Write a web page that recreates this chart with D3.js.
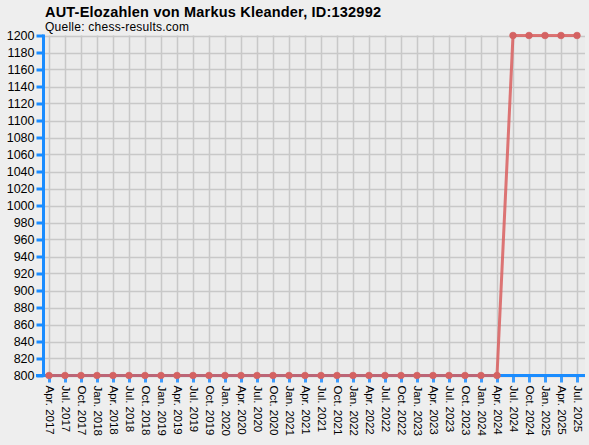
<!DOCTYPE html>
<html><head><meta charset="utf-8">
<script src="https://cdn.jsdelivr.net/npm/d3@7"></script>
<style>
html,body{margin:0;padding:0;background:#eeeeee;}
svg{display:block;font-family:"Liberation Sans",Arial,sans-serif;}
</style></head>
<body>
<svg id="c" width="589" height="445"></svg>
<script>
const titleText = "AUT-Elozahlen von Markus Kleander, ID:132992";
const subtitleText = "Quelle: chess-results.com";
const categories = ["Apr. 2017","Jul. 2017","Oct. 2017","Jan. 2018","Apr. 2018","Jul. 2018","Oct. 2018","Jan. 2019","Apr. 2019","Jul. 2019","Oct. 2019","Jan. 2020","Apr. 2020","Jul. 2020","Oct. 2020","Jan. 2021","Apr. 2021","Jul. 2021","Oct. 2021","Jan. 2022","Apr. 2022","Jul. 2022","Oct. 2022","Jan. 2023","Apr. 2023","Jul. 2023","Oct. 2023","Jan. 2024","Apr. 2024","Jul. 2024","Oct. 2024","Jan. 2025","Apr. 2025","Jul. 2025"];
const elo = [800,800,800,800,800,800,800,800,800,800,800,800,800,800,800,800,800,800,800,800,800,800,800,800,800,800,800,800,800,1200,1200,1200,1200,1200];
const yTicks = [800,820,840,860,880,900,920,940,960,980,1000,1020,1040,1060,1080,1100,1120,1140,1160,1180,1200];

const svg = d3.select("#c");
const L = 44, R = 585, T = 35.5, B = 375.5;
const step = 16;
const x = d3.scalePoint().domain(categories).range([49, 49 + step*(categories.length-1)]);
const y = d3.scaleLinear().domain([800,1200]).range([B, T]);

svg.append("rect").attr("x",0).attr("y",0).attr("width",589).attr("height",445).attr("fill","#eeeeee");
svg.append("rect").attr("x",L).attr("y",T).attr("width",R-L).attr("height",B-T).attr("fill","#ebebeb");

// grid
const g = svg.append("g");
g.selectAll("line.h").data(yTicks).join("line")
  .attr("x1",L).attr("x2",R).attr("y1",d=>Math.round(y(d))+0.5).attr("y2",d=>Math.round(y(d))+0.5)
  .attr("stroke","#c8c8c8").attr("stroke-width",1.5);
g.selectAll("line.v").data(categories).join("line")
  .attr("x1",d=>x(d)+0.5).attr("x2",d=>x(d)+0.5).attr("y1",T).attr("y2",B)
  .attr("stroke","#c8c8c8").attr("stroke-width",1.5);

// y axis
const ya = svg.append("g").attr("transform",`translate(${L-0.5},0)`)
  .call(d3.axisLeft(y).tickValues(yTicks).tickSize(7).tickPadding(2).tickFormat(d3.format("d")));
ya.select(".domain").remove();
ya.selectAll(".tick line").attr("stroke","#1a8cff").attr("stroke-width",3);
ya.selectAll(".tick text").attr("fill","#000").style("font-size","12.5px").style("font-family","'Liberation Sans',Arial,sans-serif");
svg.append("line").attr("x1",L-0.5).attr("x2",L-0.5).attr("y1",T-1).attr("y2",B+1).attr("stroke","#1a8cff").attr("stroke-width",3);

// x axis
const xa = svg.append("g").attr("transform",`translate(0,${B})`)
  .call(d3.axisBottom(x).tickSize(7).tickPadding(0));
xa.select(".domain").remove();
xa.selectAll(".tick line").attr("stroke","#1a8cff").attr("stroke-width",3).attr("opacity",0.85);
xa.selectAll(".tick text")
  .attr("fill","#000").style("font-size","11.5px").style("font-family","'Liberation Sans',Arial,sans-serif")
  .attr("text-anchor","start").attr("dy",null)
  .attr("transform","translate(0,10) rotate(90)")
  .attr("x",0).attr("y",0).attr("dominant-baseline","central");
svg.append("line").attr("x1",36).attr("x2",R).attr("y1",B).attr("y2",B).attr("stroke","#1a8cff").attr("stroke-width",3);

// series
const pts = categories.map((c,i)=>({c, v: elo[i]}));
svg.append("path").datum(pts)
  .attr("fill","none").attr("stroke","#d95f5f").attr("stroke-opacity",0.85).attr("stroke-width",3)
  .attr("d", d3.line().x(d=>x(d.c)).y(d=>y(d.v)));
svg.selectAll("circle.p").data(pts).join("circle")
  .attr("cx",d=>x(d.c)).attr("cy",d=>y(d.v)).attr("r",3.3)
  .attr("fill","#d46262").attr("stroke","#d46262").attr("stroke-width",0.8);

// titles
svg.append("text").attr("x",45).attr("y",16.5).text(titleText)
  .attr("textLength",336).attr("lengthAdjust","spacing")
  .style("font-weight","bold").style("font-size","14.5px").attr("fill","#000");
svg.append("text").attr("x",45).attr("y",30.5).text(subtitleText)
  .attr("textLength",144).attr("lengthAdjust","spacing")
  .style("font-size","12px").attr("fill","#000");
</script>
</body></html>
